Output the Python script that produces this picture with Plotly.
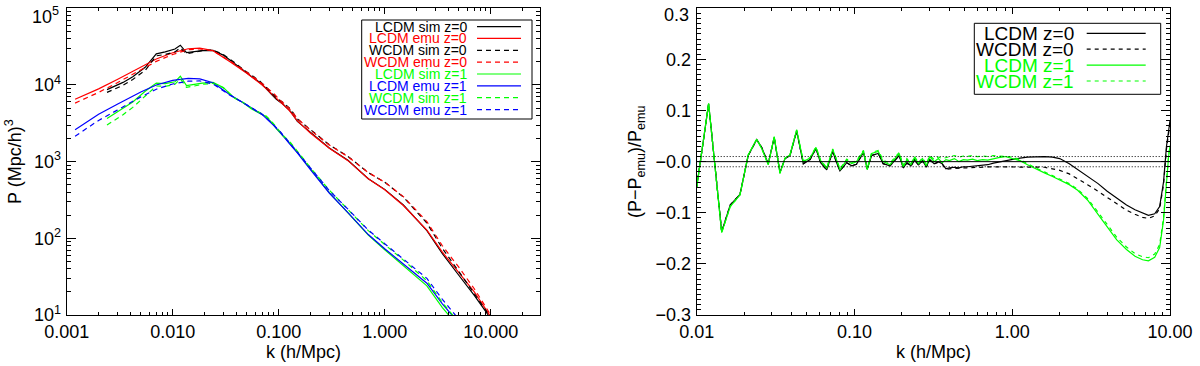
import plotly.graph_objects as go
from plotly.subplots import make_subplots

W, H = 1200, 366
FONT = "Liberation Sans, Arial, Helvetica, sans-serif"

# ---------------- left panel : P(k) ----------------
k_emu = [0.0012, 0.002, 0.003, 0.005, 0.007, 0.01, 0.014, 0.018, 0.024, 0.035,
         0.05, 0.07, 0.09, 0.105, 0.125, 0.15, 0.2, 0.3, 0.45, 0.7,
         1.0, 1.5, 2.5, 3.5, 5.0, 7.0, 10.0]
p_lcdm_emu_z0 = [6500, 8900, 11800, 17000, 21800, 26300, 29700, 30200, 28000, 20000,
                 14200, 10000, 7300, 5900, 4700, 3400, 2350, 1500, 1030, 600,
                 430, 268, 128, 66, 36, 20, 9.5]
p_wcdm_emu_z0 = [5800, 8000, 10700, 15700, 20300, 25000, 28800, 29600, 27800, 20400,
                 14700, 10400, 7700, 6200, 5000, 3650, 2560, 1650, 1160, 720,
                 540, 350, 165, 80, 42, 22, 10]
p_lcdm_emu_z1 = [2600, 4150, 5600, 8100, 10000, 11500, 12200, 12000, 10700, 7400,
                 5500, 4100, 2950, 2350, 1750, 1300, 780, 390, 216, 112,
                 73, 46, 26, 14, 8, 4.5, 2.2]
p_wcdm_emu_z1 = [2150, 3450, 4700, 7000, 8800, 10300, 11200, 11300, 10300, 7300,
                 5500, 4150, 3000, 2400, 1800, 1330, 830, 420, 240, 128,
                 85, 54, 30, 16, 9, 5, 2.5]

k_sim = [0.0024, 0.0034, 0.0042, 0.0055, 0.007, 0.0085, 0.0105, 0.0118, 0.0135, 0.016,
         0.019, 0.024, 0.03, 0.038, 0.046, 0.055, 0.065, 0.075, 0.085, 0.095,
         0.11, 0.13, 0.15, 0.2, 0.3, 0.45, 0.7, 1.0, 1.5, 2.5,
         3.5, 5.0, 7.0, 10.0]
p_lcdm_sim_z0 = [8700, 10800, 12800, 17000, 25500, 27000, 29500, 33000, 26500, 27500,
                 28000, 28300, 24500, 19200, 15500, 13000, 11000, 9200, 7600, 6500,
                 5600, 4500, 3350, 2380, 1510, 1040, 600, 435, 272, 126,
                 63, 33, 18, 9]
p_wcdm_sim_z0 = [8000, 9900, 11800, 15500, 24000, 25000, 27000, 30500, 25500, 27000,
                 28000, 28500, 25000, 19800, 16000, 13500, 11500, 9600, 8000, 6800,
                 5900, 4800, 3600, 2580, 1660, 1170, 720, 540, 345, 158,
                 74, 37, 19, 9.3]
p_lcdm_sim_z1 = [3650, 4900, 6000, 8300, 10600, 10400, 11000, 13000, 9800, 10200,
                 10600, 10800, 9300, 6800, 5900, 4900, 4300, 3900, 3300, 2700,
                 2150, 1700, 1320, 790, 395, 215, 110, 71, 44, 24,
                 12.5, 7, 4, 2]
p_wcdm_sim_z1 = [3000, 4100, 5100, 7200, 9700, 9600, 10200, 12000, 9300, 9700,
                 10200, 10500, 9200, 6800, 5950, 5000, 4400, 4000, 3400, 2800,
                 2200, 1750, 1360, 830, 425, 240, 126, 83, 52, 28,
                 14.5, 8, 4.5, 2.2]

# ---------------- right panel : (P-Pemu)/Pemu ----------------
k_rat = [0.0100, 0.0119, 0.0144, 0.0163, 0.0188, 0.0212, 0.0240, 0.0258, 0.0284, 0.0310,
         0.0337, 0.0363, 0.0390, 0.0430, 0.0474, 0.0523, 0.0570, 0.0610, 0.0667, 0.0728,
         0.0771, 0.0809, 0.0893, 0.0960, 0.103, 0.114, 0.1205, 0.1285, 0.1416, 0.152,
         0.168, 0.192, 0.204,
         0.215, 0.228, 0.24, 0.255, 0.27, 0.285, 0.30, 0.32, 0.34, 0.36,
         0.38, 0.40, 0.43, 0.46, 0.49, 0.52, 0.56, 0.60, 0.65, 0.70,
         0.76, 0.82, 0.90,
         1.0, 1.12, 1.25, 1.4, 1.6, 1.8, 2.0, 2.3, 2.6, 3.0,
         3.5, 4.0, 4.6, 5.3, 6.0, 6.7, 7.3, 8.0, 8.6, 9.1,
         9.5, 9.8, 10.0]
r_lcdm_z0 = [-0.050, 0.113, -0.137, -0.085, -0.064, 0.012, 0.043, 0.028, -0.004, 0.047,
             -0.021, 0.006, 0.012, 0.060, -0.004, 0.004, 0.026, -0.002, -0.016, 0.020,
             -0.002, -0.018, -0.002, -0.008, -0.005, 0.018, -0.014, 0.012, 0.016, -0.004,
             -0.008, 0.012, -0.012,
             -0.002, -0.008, 0.004, -0.006, 0.002, -0.010, 0.004, -0.004, 0.000, -0.004,
             -0.014, -0.012, -0.011, -0.012, -0.010, -0.010, -0.009, -0.008, -0.007, -0.006,
             -0.003, -0.001, 0.002,
             0.004, 0.007, 0.009, 0.010, 0.010, 0.009, 0.006, -0.004, -0.015, -0.028,
             -0.043, -0.058, -0.072, -0.085, -0.094, -0.101, -0.105, -0.102, -0.088, -0.040,
             0.030, 0.060, 0.080]
r_wcdm_z0 = [-0.050, 0.113, -0.137, -0.085, -0.064, 0.012, 0.043, 0.028, -0.004, 0.047,
             -0.021, 0.006, 0.012, 0.060, -0.004, 0.004, 0.026, -0.002, -0.016, 0.020,
             -0.002, -0.018, -0.002, -0.008, -0.005, 0.018, -0.014, 0.012, 0.016, -0.004,
             -0.008, 0.012, -0.012,
             -0.003, -0.009, 0.003, -0.007, 0.001, -0.011, 0.003, -0.005, -0.001, -0.005,
             -0.015, -0.014, -0.013, -0.013, -0.012, -0.012, -0.012, -0.011, -0.011, -0.010,
             -0.010, -0.010, -0.010,
             -0.010, -0.010, -0.010, -0.010, -0.011, -0.014, -0.017, -0.024, -0.033, -0.045,
             -0.058, -0.070, -0.083, -0.095, -0.103, -0.109, -0.111, -0.106, -0.092, -0.045,
             0.025, 0.055, 0.075]
r_lcdm_z1 = [-0.050, 0.114, -0.139, -0.088, -0.065, 0.013, 0.044, 0.026, -0.006, 0.049,
             -0.023, 0.007, 0.013, 0.062, 0.000, 0.007, 0.028, 0.002, -0.013, 0.024,
             0.003, -0.016, 0.003, -0.004, 0.000, 0.020, -0.016, 0.016, 0.020, 0.000,
             -0.006, 0.016, -0.010,
             0.004, -0.006, 0.008, -0.004, 0.006, -0.008, 0.010, 0.000, 0.006, -0.002,
             0.004, 0.002, 0.006, 0.000, 0.004, 0.003, 0.005, 0.002, 0.004, 0.003,
             0.006, 0.008, 0.010,
             0.006, 0.002, -0.006, -0.014, -0.022, -0.029, -0.036, -0.045, -0.056, -0.075,
             -0.103, -0.128, -0.153, -0.172, -0.185, -0.192, -0.194, -0.187, -0.168, -0.115,
             -0.040, 0.010, 0.030]
r_wcdm_z1 = [-0.050, 0.114, -0.139, -0.088, -0.065, 0.013, 0.044, 0.026, -0.006, 0.049,
             -0.023, 0.007, 0.013, 0.062, 0.001, 0.008, 0.029, 0.003, -0.012, 0.025,
             0.004, -0.014, 0.005, -0.002, 0.002, 0.022, -0.013, 0.018, 0.022, 0.003,
             -0.003, 0.018, -0.007,
             0.006, -0.004, 0.010, -0.002, 0.008, -0.005, 0.012, 0.004, 0.009, 0.006,
             0.008, 0.010, 0.012, 0.009, 0.011, 0.010, 0.012, 0.010, 0.011, 0.010,
             0.012, 0.011, 0.010,
             0.009, 0.004, -0.004, -0.012, -0.020, -0.027, -0.034, -0.043, -0.054, -0.072,
             -0.099, -0.123, -0.148, -0.167, -0.180, -0.186, -0.188, -0.181, -0.162, -0.110,
             -0.036, 0.012, 0.032]

left_labels = ["LCDM sim z=0", "LCDM emu z=0", "WCDM sim z=0", "WCDM emu z=0",
               "LCDM sim z=1", "LCDM emu z=1", "WCDM sim z=1", "WCDM emu z=1"]
right_labels = ["LCDM z=0", "WCDM z=0", "LCDM z=1", "WCDM z=1"]

left_x_ticks = [0.001, 0.01, 0.1, 1, 10]
left_x_text = ["0.001", "0.010", "0.100", "1.000", "10.000"]
left_y_ticks = [10, 100, 1000, 10000, 100000]
left_y_text = ["10<sup>1</sup>", "10<sup>2</sup>", "10<sup>3</sup>", "10<sup>4</sup>", "10<sup>5</sup>"]
right_x_ticks = [0.01, 0.1, 1, 10]
right_x_text = ["0.01", "0.10", "1.00", "10.00"]
right_y_ticks = [-0.3, -0.2, -0.1, 0.0, 0.1, 0.2, 0.3]
right_y_text = ["\u22120.3", "\u22120.2", "\u22120.1", "\u22120.0", "0.1", "0.2", "0.3"]

BLACK, RED, GREEN, BLUE = "#000000", "#ff0000", "#00ff00", "#0000ff"
DASH_L = "5px,4px"
DASH_R = "4px,4px"


def px(x):
    return x / W


def py(y):
    return 1 - y / H


fig = make_subplots(rows=1, cols=2)

left_series = [
    (k_sim, p_lcdm_sim_z0, BLACK, "solid"),
    (k_emu, p_lcdm_emu_z0, RED, "solid"),
    (k_sim, p_wcdm_sim_z0, BLACK, DASH_L),
    (k_emu, p_wcdm_emu_z0, RED, DASH_L),
    (k_sim, p_lcdm_sim_z1, GREEN, "solid"),
    (k_emu, p_lcdm_emu_z1, BLUE, "solid"),
    (k_sim, p_wcdm_sim_z1, GREEN, DASH_L),
    (k_emu, p_wcdm_emu_z1, BLUE, DASH_L),
]
for (k, p, c, d), name in zip(left_series, left_labels):
    fig.add_trace(go.Scatter(x=k, y=p, mode="lines", name=name,
                             line=dict(color=c, width=1.2, dash=d)), row=1, col=1)

right_series = [
    (r_lcdm_z0, BLACK, "solid"),
    (r_wcdm_z0, BLACK, DASH_R),
    (r_lcdm_z1, GREEN, "solid"),
    (r_wcdm_z1, GREEN, DASH_R),
]
for (r, c, d), name in zip(right_series, right_labels):
    fig.add_trace(go.Scatter(x=k_rat, y=r, mode="lines", name=name,
                             line=dict(color=c, width=1.2, dash=d)), row=1, col=2)

fig.add_hline(y=0, line=dict(color=BLACK, width=1), row=1, col=2)
fig.add_hline(y=0.01, line=dict(color=BLACK, width=1, dash="1px,2px"), row=1, col=2)
fig.add_hline(y=-0.01, line=dict(color=BLACK, width=1, dash="1px,2px"), row=1, col=2)

ax_common = dict(showline=True, linecolor=BLACK, linewidth=1, mirror="allticks",
                 showgrid=False, zeroline=False, ticks="inside", tickcolor=BLACK,
                 tickfont=dict(family=FONT, size=18, color=BLACK), automargin=False)

# the top-most y labels sit past the page edge in plotly; they are drawn as text below
yb, yt = py(315), py(8.3)
fig.update_xaxes(ax_common, type="log", range=[-3, 1.465], domain=[px(66.7), px(540)],
                 tickmode="array", tickvals=left_x_ticks, ticktext=left_x_text,
                 ticklen=6, ticklabelstandoff=0,
                 minor=dict(ticks="inside", ticklen=3, dtick="D1", tickcolor=BLACK, showgrid=False),
                 row=1, col=1)
fig.update_yaxes(ax_common, type="log", range=[0.9999, 5.0001], domain=[yb, yt],
                 tickmode="array", tickvals=left_y_ticks, ticktext=left_y_text[:-1] + [""],
                 ticklen=9, ticklabelstandoff=1,
                 minor=dict(ticks="inside", ticklen=4.5, dtick="D1", tickcolor=BLACK, showgrid=False),
                 row=1, col=1)
fig.update_xaxes(ax_common, type="log", range=[-2.0001, 1.0001], domain=[px(696.7), px(1170)],
                 tickmode="array", tickvals=right_x_ticks, ticktext=right_x_text,
                 ticklen=6, ticklabelstandoff=0,
                 minor=dict(ticks="inside", ticklen=3, dtick="D1", tickcolor=BLACK, showgrid=False),
                 row=1, col=2)
fig.update_yaxes(ax_common, range=[-0.3001, 0.3001], domain=[yb, yt],
                 tickmode="array", tickvals=right_y_ticks, ticktext=right_y_text[:-1] + [""],
                 ticklen=9, ticklabelstandoff=1,
                 minor=dict(ticks="inside", ticklen=4.5, dtick=0.01, tick0=0, tickcolor=BLACK, showgrid=False),
                 row=1, col=2)

tick_font = dict(family=FONT, size=18, color=BLACK)
fig.add_annotation(text=left_y_text[-1], x=px(61), y=py(15), xref="paper", yref="paper",
                   xanchor="right", yanchor="middle", showarrow=False, font=tick_font)
fig.add_annotation(text=right_y_text[-1], x=px(691), y=py(15.5), xref="paper", yref="paper",
                   xanchor="right", yanchor="middle", showarrow=False, font=tick_font)

# axis titles
tfont = dict(family=FONT, size=18, color=BLACK)
fig.add_annotation(text="k (h/Mpc)", x=px(303), y=py(352), xref="paper", yref="paper",
                   xanchor="center", yanchor="middle", showarrow=False, font=tfont)
fig.add_annotation(text="k (h/Mpc)", x=px(933), y=py(352), xref="paper", yref="paper",
                   xanchor="center", yanchor="middle", showarrow=False, font=tfont)
fig.add_annotation(text="P (Mpc/h)<sup>3</sup>", x=px(13), y=py(162), xref="paper", yref="paper",
                   xanchor="center", yanchor="middle", showarrow=False, textangle=-90, font=tfont)
fig.add_annotation(text="(P\u2212P<sub>emu</sub>)/P<sub>emu</sub>", x=px(636), y=py(162),
                   xref="paper", yref="paper", xanchor="center", yanchor="middle",
                   showarrow=False, textangle=-90, font=tfont)

# hand-made legends (IDL style: text right-aligned, sample line on the right)
fig.add_shape(type="rect", xref="paper", yref="paper", x0=px(361.7), x1=px(532),
              y0=py(119), y1=py(20), line=dict(color=BLACK, width=1), fillcolor="white")
for i, ((k, p, c, d), name) in enumerate(zip(left_series, left_labels)):
    yy = py(26.6 + 11.85 * i)
    fig.add_annotation(text=name, x=px(469), y=yy, xref="paper", yref="paper",
                       xanchor="right", yanchor="middle", showarrow=False,
                       font=dict(family=FONT, size=14, color=c))
    fig.add_shape(type="line", xref="paper", yref="paper", x0=px(477), x1=px(521),
                  y0=yy, y1=yy, line=dict(color=c, width=1.2, dash=d))

fig.add_shape(type="rect", xref="paper", yref="paper", x0=px(974.3), x1=px(1160.7),
              y0=py(94.3), y1=py(23.3), line=dict(color=BLACK, width=1), fillcolor="white")
for i, ((r, c, d), name) in enumerate(zip(right_series, right_labels)):
    yy = py(33.3 + 15.9 * i)
    fig.add_annotation(text=name, x=px(1076), y=yy, xref="paper", yref="paper",
                       xanchor="right", yanchor="middle", showarrow=False,
                       font=dict(family=FONT, size=19, color=c))
    fig.add_shape(type="line", xref="paper", yref="paper", x0=px(1086.7), x1=px(1145.7),
                  y0=yy, y1=yy, line=dict(color=c, width=1.2, dash=d))

fig.update_layout(width=W, height=H, margin=dict(l=0, r=0, t=0, b=0),
                  paper_bgcolor="white", plot_bgcolor="white", showlegend=False,
                  font=dict(family=FONT, color=BLACK))

# drop the browser's default 8px body margin so the figure fills the window
fig.write_html("out.html", config={"displayModeBar": False},
               post_script="document.body.style.margin='0px';")
